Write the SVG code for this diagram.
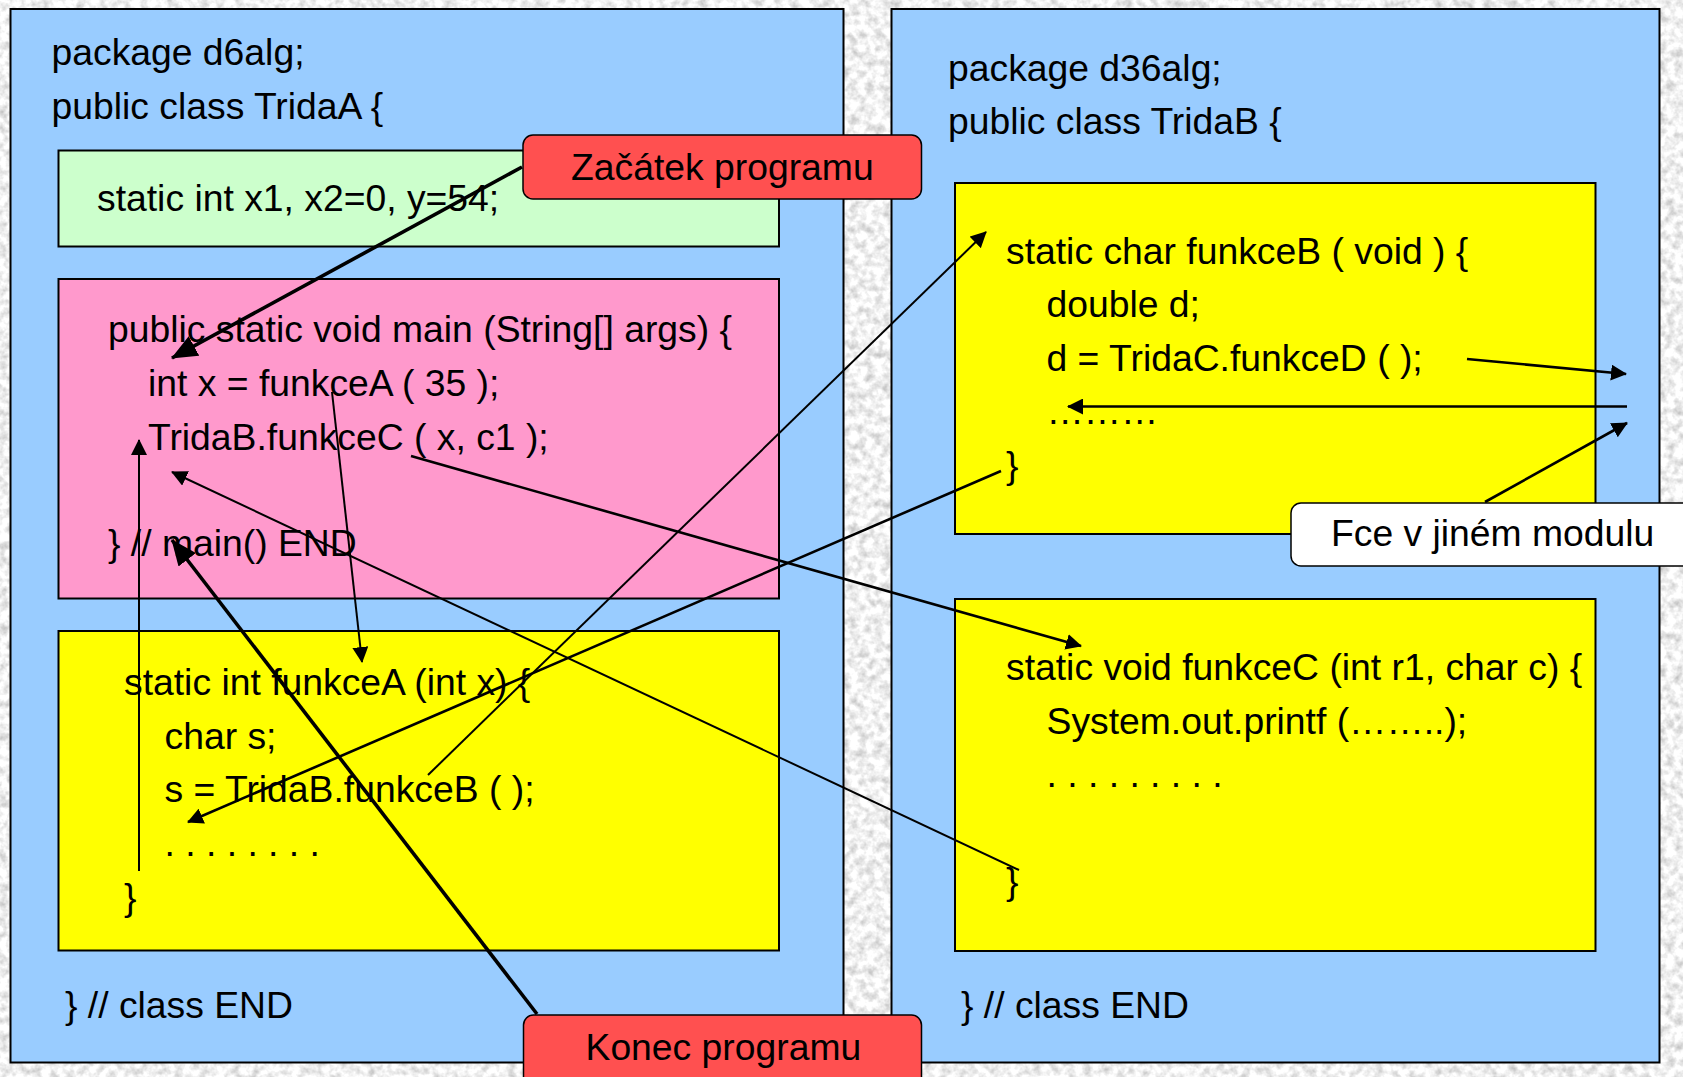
<svg xmlns="http://www.w3.org/2000/svg" width="1683" height="1077" viewBox="0 0 1683 1077">
<defs>
<filter id="tex" x="0" y="0" width="100%" height="100%" color-interpolation-filters="sRGB">
<feTurbulence type="fractalNoise" baseFrequency="0.12" numOctaves="3" seed="7"/>
<feColorMatrix type="matrix" values="0.45 0 0 0 0.72  0.45 0 0 0 0.72  0.45 0 0 0 0.72  0 0 0 0 1"/>
</filter>
<marker id="a" viewBox="0 0 16 16" refX="15" refY="8" markerWidth="16" markerHeight="16" markerUnits="userSpaceOnUse" orient="auto">
<path d="M0,0 L16,8 L0,16 z" fill="#000"/>
</marker>
<marker id="A" viewBox="0 0 26 22" refX="25" refY="11" markerWidth="26" markerHeight="22" markerUnits="userSpaceOnUse" orient="auto">
<path d="M0,0 L26,11 L0,22 z" fill="#000"/>
</marker>
</defs>
<style>
text{font-family:"Liberation Sans",Arial,sans-serif;font-size:37.3px;fill:#000}
.box{stroke:#000;stroke-width:2}
.blue{fill:#99CCFF}
.green{fill:#CCFFCC}
.pink{fill:#FF99CC}
.yel{fill:#FFFF00}
.red{fill:#FF5050;stroke:#000;stroke-width:1.5}
.wht{fill:#FFFFFF;stroke:#000;stroke-width:1.5}
.c{fill:none;stroke:#000;stroke-width:2;marker-end:url(#a)}
.cm{fill:none;stroke:#000;stroke-width:2.6;marker-end:url(#a)}
.ck{fill:none;stroke:#000;stroke-width:3.6;marker-end:url(#A)}
</style>
<rect x="0" y="0" width="1683" height="1077" filter="url(#tex)"/>

<g id="classA">
<rect class="box blue" x="10.5" y="9" width="833" height="1053.5"/>
<text x="51.5" y="65">package d6alg;</text>
<text x="51.5" y="119">public class TridaA {</text>
<text x="65" y="1018">} // class END</text>
</g>
<g id="vars">
<rect class="box green" x="58.5" y="150.5" width="720.5" height="96"/>
<text x="97" y="211">static int x1, x2=0, y=54;</text>
</g>
<g id="main">
<rect class="box pink" x="58.5" y="279" width="720.5" height="319.5"/>
<text x="108" y="342">public static void main (String[] args) {</text>
<text x="148" y="396">int x = funkceA ( 35 );</text>
<text x="148" y="449.5">TridaB.funkceC ( x, c1 );</text>
<text x="108" y="556">} // main() END</text>
</g>
<g id="funkceA">
<rect class="box yel" x="58.5" y="631" width="720.5" height="319.5"/>
<text x="124" y="695">static int funkceA (int x) {</text>
<text x="164.5" y="749">char s;</text>
<text x="164.5" y="802">s = TridaB.funkceB ( );</text>
<text x="164.5" y="856">. . . . . . . .</text>
<text x="124" y="910">}</text>
</g>

<g id="classB">
<rect class="box blue" x="891.5" y="9" width="768" height="1053.5"/>
<text x="948" y="81">package d36alg;</text>
<text x="948" y="134">public class TridaB {</text>
<text x="961" y="1018">} // class END</text>
</g>
<g id="funkceB">
<rect class="box yel" x="955" y="183" width="640.5" height="351"/>
<text x="1006" y="264">static char funkceB ( void ) {</text>
<text x="1046.5" y="317">double d;</text>
<text x="1046.5" y="371">d = TridaC.funkceD ( );</text>
<text x="1046.5" y="424">………</text>
<text x="1006" y="478">}</text>
</g>
<g id="funkceC">
<rect class="box yel" x="955" y="599" width="640.5" height="352"/>
<text x="1006" y="680">static void funkceC (int r1, char c) {</text>
<text x="1046.5" y="734">System.out.printf (……..);</text>
<text x="1046.5" y="787">. . . . . . . . .</text>
<text x="1006" y="894">}</text>
</g>

<g id="connectors">
<line class="ck" x1="522" y1="167" x2="172" y2="358"/>
<line class="c" x1="332" y1="392" x2="362" y2="662"/>
<line class="c" x1="139" y1="871" x2="139" y2="440"/>
<line class="cm" x1="411" y1="456" x2="1081" y2="646"/>
<line class="c" x1="1019" y1="870" x2="172" y2="472"/>
<line class="ck" x1="537" y1="1014" x2="172" y2="540"/>
<line class="c" x1="428" y1="775" x2="986" y2="232"/>
<line class="cm" x1="1001" y1="471" x2="188" y2="822"/>
<line class="cm" x1="1467" y1="359" x2="1626" y2="374"/>
<line class="cm" x1="1627" y1="406.5" x2="1068" y2="406.5"/>
<line class="cm" x1="1485" y1="502" x2="1627" y2="423"/>
</g>

<g id="start">
<rect class="red" x="523" y="135" width="398.5" height="64" rx="10"/>
<text x="571" y="180">Začátek programu</text>
</g>
<g id="end">
<rect class="red" x="523.5" y="1015" width="398" height="75" rx="10"/>
<text x="585.5" y="1060">Konec programu</text>
</g>
<g id="note">
<rect class="wht" x="1291" y="503" width="410" height="63" rx="10"/>
<text x="1331" y="546">Fce v jiném modulu</text>
</g>
</svg>
